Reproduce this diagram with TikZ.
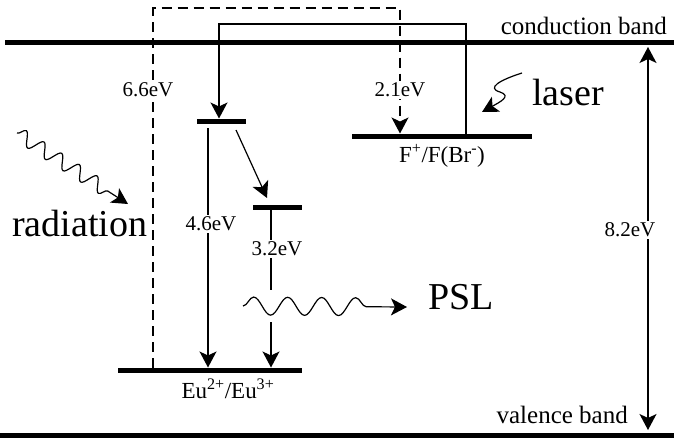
\documentclass[tikz,border=0pt]{standalone}
\usepackage{fontspec}
\setmainfont{Liberation Serif}
\usetikzlibrary{arrows.meta,decorations.pathmorphing}

\begin{document}
\begin{tikzpicture}[
    x=1pt, y=-1pt,
    band/.style={line width=5pt},
    lvl/.style={line width=5pt},
    tr/.style={line width=1.2pt},
    arr/.style={tr, -{Stealth[length=16pt,width=17pt,inset=4pt]}},
    darr/.style={tr, {Stealth[length=16pt,width=17pt,inset=4pt]}-{Stealth[length=16pt,width=17pt,inset=4pt]}},
    ev/.style={fill=white, inner sep=2pt, font=\fontsize{21}{21}\selectfont},
    lab/.style={inner sep=0pt, font=\fontsize{23}{23}\selectfont},
    bandlab/.style={inner sep=0pt, font=\fontsize{25}{25}\selectfont},
    big/.style={inner sep=0pt, font=\fontsize{38}{38}\selectfont},
    wave/.style={arr, decorate}]
  \useasboundingbox (0,0) rectangle (674,439);
  % bands and levels
  \coordinate (cb1) at (5,42);
  \coordinate (cb2) at (674,42);
  \coordinate (vb1) at (0,435);
  \coordinate (vb2) at (674,435);
  \coordinate (u1) at (197,121);
  \coordinate (u2) at (246,121);
  \coordinate (m1) at (253,207);
  \coordinate (m2) at (302,207);
  \coordinate (f1) at (352,136);
  \coordinate (f2) at (532,136);
  \coordinate (e1) at (118,370);
  \coordinate (e2) at (302,370);
  \draw[band] (cb1) -- (cb2);
  \draw[band] (vb1) -- (vb2);
  \draw[lvl] (u1) -- (u2);
  \draw[lvl] (m1) -- (m2);
  \draw[lvl] (f1) -- (f2);
  \draw[lvl] (e1) -- (e2);
  % transitions
  \coordinate (d0) at (153,367.5);
  \coordinate (d2) at (400,8);
  \coordinate (d3) at (400,133.5);
  \draw[arr, dash pattern=on 10pt off 6pt] (d0) |- (d2) -- (d3);
  \coordinate (s0) at (466,133.5);
  \coordinate (s1) at (219,24);
  \coordinate (s2) at (219,118.5);
  \draw[arr] (s0) |- (s1) -- (s2);
  \coordinate (dg0) at (236,130);
  \coordinate (dg1) at (267,198);
  \draw[arr] (dg0) -- (dg1);
  \coordinate (a0) at (208,128);
  \coordinate (a1) at (208,367.5);
  \draw[arr] (a0) -- (a1);
  \coordinate (b0) at (271,210);
  \coordinate (b1) at (271,290);
  \coordinate (b2) at (271,322);
  \coordinate (b3) at (271,367.5);
  \draw[tr] (b0) -- (b1);
  \draw[arr] (b2) -- (b3);
  \coordinate (g0) at (648,47);
  \coordinate (g1) at (648,430);
  \draw[darr] (g0) -- (g1);
  % waves
  \coordinate (r0) at (17,133);
  \coordinate (r1) at (128,204);
  \draw[wave, decoration={snake, segment length=21pt, amplitude=7pt, post length=16pt}] (r0) -- (r1);
  \coordinate (w0) at (243,306);
  \coordinate (w1) at (407,307);
  \draw[wave, decoration={snake, segment length=34pt, amplitude=9pt, post length=28pt}] (w0) -- (w1);
  \coordinate (ls0) at (522,73);
  \coordinate (ls1) at (482,112);
  \draw[arr] (ls0) .. controls (500,80) and (486,88) .. (500,92) .. controls (512,96) and (500,102) .. (ls1);
  % labels
  \node[ev] (l66) at (148,90) {6.6eV};
  \node[ev] (l21) at (400,90) {2.1eV};
  \node[ev] (l46) at (211,224) {4.6eV};
  \node[ev] (l32) at (277,249) {3.2eV};
  \node[ev] (l82) at (630,230) {8.2eV};
  \node[lab] (fl) at (442,156) {F\textsuperscript{+}/F(Br\textsuperscript{-})};
  \node[lab] (el) at (228,389) {Eu\textsuperscript{2+}/Eu\textsuperscript{3+}};
  \node[bandlab, anchor=base east] (cbt) at (667,34) {conduction band};
  \node[bandlab, anchor=base east] (vbt) at (628,423) {valence band};
  \node[big, anchor=base west] (rad) at (12,236) {radiation};
  \node[big, anchor=base west] (psl) at (428,309) {PSL};
  \node[big, anchor=base west] (las) at (532,105) {laser};
\end{tikzpicture}
\end{document}
